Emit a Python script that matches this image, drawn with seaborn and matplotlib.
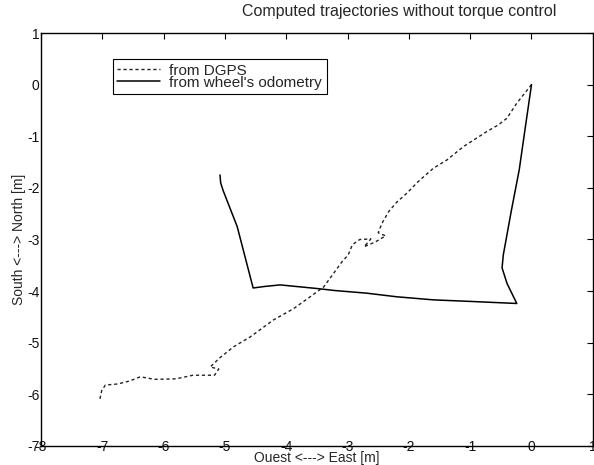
import matplotlib
matplotlib.use("Agg")
import matplotlib.pyplot as plt
import seaborn as sns
import pandas as pd

# Trajectory (metres)
dgps_x = [0, -0.12, -0.24, -0.40, -0.54, -0.73, -0.90, -1.11, -1.38, -1.60, -1.85,
          -2.03, -2.20, -2.33, -2.44, -2.50, -2.38, -2.55, -2.73, -2.62, -2.80,
          -2.92, -2.99, -3.09, -3.23, -3.39, -3.61, -3.88, -4.21, -4.59, -4.86,
          -5.08, -5.24, -5.10, -5.17, -5.52, -5.80, -6.15, -6.38, -6.55, -6.75,
          -6.95, -7.01, -7.04]
dgps_y = [0, -0.18, -0.36, -0.65, -0.78, -0.91, -1.04, -1.20, -1.46, -1.62, -1.88,
          -2.10, -2.28, -2.46, -2.69, -2.87, -2.93, -3.05, -3.14, -2.99, -3.00,
          -3.10, -3.30, -3.43, -3.66, -3.92, -4.11, -4.34, -4.56, -4.89, -5.08,
          -5.29, -5.47, -5.51, -5.63, -5.63, -5.70, -5.71, -5.66, -5.74, -5.80,
          -5.82, -5.93, -6.10]

odo_x = [0, -0.10, -0.20, -0.33, -0.46, -0.48, -0.40, -0.24, -1.00, -1.60, -2.20,
         -2.69, -3.20, -3.50, -4.10, -4.35, -4.54, -4.80, -5.03, -5.07, -5.08]
odo_y = [0, -0.82, -1.65, -2.45, -3.30, -3.55, -3.85, -4.24, -4.20, -4.17, -4.11,
         -4.04, -3.99, -3.95, -3.88, -3.91, -3.94, -2.75, -2.05, -1.90, -1.75]

xticks = list(range(-8, 2))
yticks = list(range(-7, 2))

dgps = pd.DataFrame({"x": dgps_x, "y": dgps_y})
odo = pd.DataFrame({"x": odo_x, "y": odo_y})

sns.set_theme(style="white")
plt.rcParams["font.family"] = ["Liberation Sans", "DejaVu Sans"]
plt.rcParams["axes.unicode_minus"] = False

fig = plt.figure(figsize=(5.94, 4.65), dpi=100)
ax = fig.add_axes([0.069, 0.041, 0.929, 0.888])

sns.lineplot(data=dgps, x="x", y="y", sort=False, estimator=None, ax=ax,
             color="#222222", linewidth=1.0, linestyle=(0, (2.3, 2.0)),
             label="from DGPS")
sns.lineplot(data=odo, x="x", y="y", sort=False, estimator=None, ax=ax,
             color="black", linewidth=1.1, label="from wheel's odometry")

ax.set_xlim(-8, 1)
ax.set_ylim(-7, 1)
ax.set_xticks(xticks)
ax.set_yticks(yticks)
ax.tick_params(direction="in", length=4, width=0.8, color="black",
               top=True, right=True, labelsize=10, labelcolor="#111111")
ax.tick_params(axis="x", pad=-4.5)
ax.tick_params(axis="y", pad=1)
for s in ax.spines.values():
    s.set_color("black")
    s.set_linewidth(1.0)

ax.set_xlabel("Ouest <---> East [m]", fontsize=10, labelpad=-2)
ax.set_ylabel("South <---> North [m]", fontsize=10, labelpad=0.5)
ax.set_title("Computed trajectories without torque control", fontsize=11.5,
             x=0.65, y=1.022)

leg = ax.legend(loc="upper left", bbox_to_anchor=(0.13, 0.937),
                borderaxespad=0, fancybox=False, edgecolor="black",
                framealpha=1, fontsize=11, handlelength=2.8,
                handletextpad=0.6, labelspacing=-0.12, borderpad=0.3)
leg.get_frame().set_linewidth(0.8)

fig.savefig("out.png", dpi=100)
